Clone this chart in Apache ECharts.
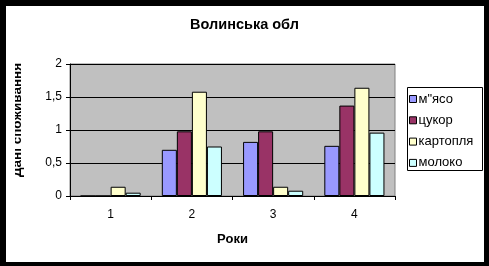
<!DOCTYPE html>
<html>
<head>
<meta charset="utf-8">
<script src="https://cdn.jsdelivr.net/npm/echarts@6/dist/echarts.min.js"></script>
<style>
html,body{margin:0;padding:0;background:#fff;}
#c{width:489px;height:266px;}
</style>
</head>
<body>
<div id="c"></div>
<script>
var categories = ['1', '2', '3', '4'];
var seriesNames = ['м"ясо', 'цукор', 'картопля', 'молоко'];
var meat = [0, 0.70, 0.82, 0.76];
var sugar = [0, 0.98, 0.98, 1.37];
var potato = [0.14, 1.58, 0.14, 1.64];
var milk = [0.05, 0.75, 0.08, 0.96];
var yTicks = [0, 0.5, 1, 1.5, 2];
var colors = ['#9999FF', '#993366', '#FFFFCC', '#CCFFFF'];

var FONT = '"Liberation Sans", Arial, sans-serif';
var chart = echarts.init(document.getElementById('c'), null, {renderer: 'canvas'});
var values = [meat, sugar, potato, milk];
var series = values.map(function (d, i) {
  return {
    name: seriesNames[i],
    type: 'bar',
    data: d,
    barGap: '0%',
    barCategoryGap: '26%',
    itemStyle: {color: colors[i], borderColor: '#000', borderWidth: 1},
    emphasis: {disabled: true},
    animation: false
  };
});

chart.setOption({
  animation: false,
  backgroundColor: '#fff',
  textStyle: {fontFamily: FONT, color: '#000'},
  title: {
    text: 'Волинська обл',
    left: 'center',
    top: 17,
    padding: 0,
    textStyle: {fontFamily: FONT, fontSize: 14.5, fontWeight: 'bold', color: '#000'}
  },
  grid: {
    left: 70, top: 64, width: 325, height: 132,
    show: true, backgroundColor: '#C0C0C0', borderColor: '#808080', borderWidth: 1
  },
  legend: {
    orient: 'vertical',
    left: 409, top: 92.5,
    padding: 0,
    itemWidth: 7, itemHeight: 7, itemGap: 8.3,
    icon: 'rect',
    data: seriesNames,
    itemStyle: {borderColor: '#000', borderWidth: 1},
    textStyle: {fontFamily: FONT, fontSize: 13, lineHeight: 13, color: '#000', padding: [0, 0, 0, -3]},
    selectedMode: false
  },
  xAxis: {
    type: 'category',
    data: categories,
    axisLine: {lineStyle: {color: '#000', width: 1}},
    axisTick: {show: true, length: 4, lineStyle: {color: '#000'}},
    axisLabel: {fontFamily: FONT, fontSize: 12, color: '#000', margin: 13},
    name: 'Роки',
    nameLocation: 'middle',
    nameGap: 37,
    nameTextStyle: {fontFamily: FONT, fontSize: 13, fontWeight: 'bold', color: '#000'}
  },
  yAxis: {
    type: 'value',
    min: 0, max: 2, interval: 0.5,
    axisLine: {show: true, lineStyle: {color: '#000', width: 1}},
    axisTick: {show: true, length: 4, lineStyle: {color: '#000'}},
    axisLabel: {
      fontFamily: FONT, fontSize: 12, color: '#000', margin: 8,
      formatter: function (v) { return String(v).replace('.', ','); }
    },
    splitLine: {show: true, lineStyle: {color: '#000', width: 1}}
  },
  series: series,
  graphic: [
    {type: 'text', x: 17, y: 120, rotation: Math.PI / 2,
     style: {text: 'Дані споживання', font: 'bold 13.5px ' + FONT, fill: '#000', align: 'center', verticalAlign: 'middle'}, z: 10},
    {type: 'rect', shape: {x: 6, y: 60, width: 9, height: 120}, style: {fill: '#fff'}, z: 11},
    {type: 'rect', shape: {x: 407.5, y: 87.5, width: 75, height: 83}, style: {fill: 'none', stroke: '#000', lineWidth: 1}, z: 5},
    {type: 'rect', shape: {x: 0, y: 0, width: 489, height: 6}, style: {fill: '#000'}, z: 20},
    {type: 'rect', shape: {x: 0, y: 0, width: 6, height: 266}, style: {fill: '#000'}, z: 20},
    {type: 'rect', shape: {x: 484, y: 0, width: 5, height: 266}, style: {fill: '#000'}, z: 20},
    {type: 'rect', shape: {x: 0, y: 262, width: 489, height: 4}, style: {fill: '#000'}, z: 20}
  ]
});
</script>
</body>
</html>
